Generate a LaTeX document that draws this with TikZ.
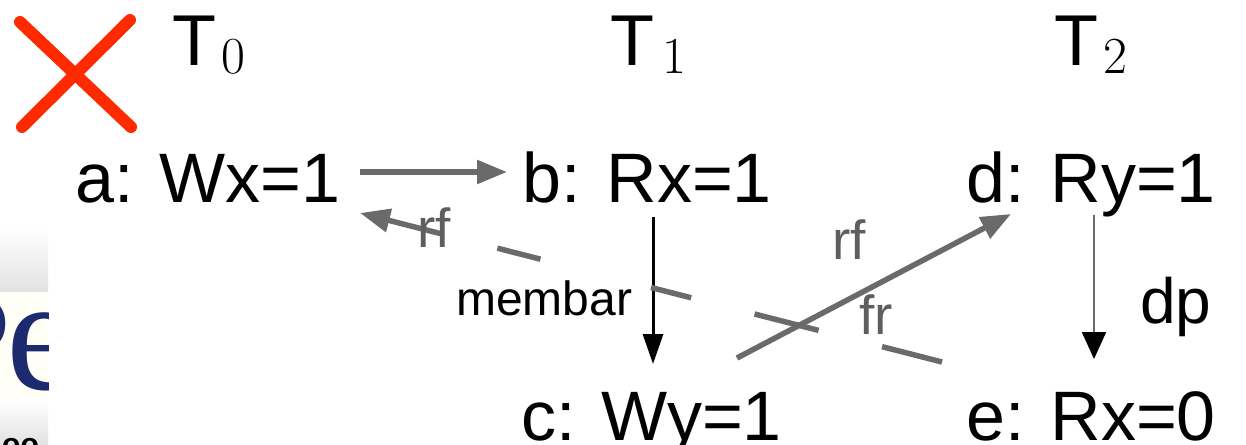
\documentclass[tikz,border=0pt]{standalone}
\usepackage{fontspec}
\setmainfont{Liberation Sans}
\newfontfamily\lmr{Latin Modern Roman}
\newfontfamily\seriffam{Liberation Serif}
\usetikzlibrary{arrows.meta,calc}
\definecolor{edgegray}{HTML}{6A6A6A}
\definecolor{labgray}{HTML}{5E5E5E}
\definecolor{xred}{HTML}{FF2A00}
\definecolor{navy}{HTML}{1C2A6E}
\definecolor{barbot}{HTML}{E2E2E2}
\begin{document}
\begin{tikzpicture}[x=1pt,y=1pt,
  evt/.style={anchor=base west,inner sep=0pt,font=\fontsize{70}{80}\selectfont},
  thr/.style={anchor=base west,inner sep=0pt,font=\fontsize{72}{80}\selectfont},
  sub/.style={font=\lmr\fontsize{52}{52}\selectfont},
  elab/.style={inner sep=0pt,text=labgray,font=\fontsize{55}{60}\selectfont},
  grayedge/.style={draw=edgegray,line width=5.5pt},
  grayhead/.style={-{Triangle[length=30pt,width=23pt]}},
  blackedge/.style={draw=black,line width=3pt,-{Triangle[length=30pt,width=20pt]}}]
\useasboundingbox (0,0) rectangle (1246,-444);
\fill[white] (0,0) rectangle (1246,-444);

% left fragment
\begin{scope}
\clip (0,-225) rectangle (48,-444);
\shade[top color=white,bottom color=barbot] (0,-228) rectangle (48,-291);
\fill[white!97!yellow] (0,-293) rectangle (48,-398);
\node[anchor=north east,inner sep=0pt,text=navy,font=\seriffam\fontsize{140}{140}\selectfont] (pp) at (12,-297) {P};
\node[anchor=north west,inner sep=0pt,text=navy,font=\seriffam\fontsize{163}{163}\selectfont] (pe) at (6,-312) {e};
\shade[top color=white,bottom color=barbot] (0,-400) rectangle (48,-444);
\node[anchor=base west,inner sep=0pt,font=\bfseries\fontsize{30}{30}\selectfont] (oo) at (2,-454) {oo};
\end{scope}

% red cross
\draw[xred,line width=12pt,line cap=round] (20,-22) -- (131,-127);
\draw[xred,line width=12pt,line cap=round] (130,-20) -- (22,-127);

% thread labels
\node[thr] (t0) at (172,-65) {T\hspace{5pt}\raisebox{-8pt}{\lmr\fontsize{52}{52}\selectfont 0}};
\node[thr] (t1) at (610,-65) {T\hspace{8pt}\raisebox{-8pt}{\lmr\fontsize{52}{52}\selectfont 1}};
\node[thr] (t2) at (1054,-65) {T\hspace{5pt}\raisebox{-8pt}{\lmr\fontsize{52}{52}\selectfont 2}};

% events
\node[evt] (a) at (75,-202) {a: Wx=1};
\node[evt] (b) at (522,-202) {b: Rx=1};
\node[evt] (d) at (966,-202) {d: Ry=1};
\node[evt] (c) at (521,-440) {c: Wy=1};
\node[evt] (e) at (966,-440) {e: Rx=0};

% connector end points
\coordinate (abS) at (360,-172);
\coordinate (abE) at (507,-172);
\coordinate (bcS) at (653,-217);
\coordinate (bcE) at (653,-364);
\coordinate (deS) at (1094,-215);
\coordinate (deE) at (1094,-359);
\coordinate (cdS) at (737,-358);
\coordinate (cdE) at (1011,-214);
\coordinate (frS) at (942,-362);
\coordinate (frE) at (360,-213);

% a -> b
\draw[grayedge,grayhead] (abS) -- (abE);
% b -> c
\draw[blackedge] (bcS) -- (bcE);
% d -> e
\draw[draw=edgegray,line width=2pt] (deS) -- ($(deE)+(0,26)$);
\draw[black,line width=2pt,-{Triangle[length=27pt,width=24pt]}] ($(deE)+(0,27)$) -- (deE);
% c -> d
\draw[grayedge,grayhead] (cdS) -- (cdE);
% e -> a (fr), partly hidden
\draw[grayedge] (frS) -- ($(frS)!0.103!(frE)$);
\draw[grayedge] ($(frS)!0.212!(frE)$) -- ($(frS)!0.322!(frE)$);
\draw[grayedge] ($(frS)!0.431!(frE)$) -- ($(frS)!0.50!(frE)$);
\draw[grayedge] ($(frS)!0.69!(frE)$) -- ($(frS)!0.764!(frE)$);
\draw[grayedge,grayhead] ($(frS)!0.862!(frE)$) -- (frE);

% edge labels
\node[elab] (rf1) at (434,-228) {rf};
\node[elab] (rf2) at (849,-240) {rf};
\node[elab] (fr1) at (876,-315) {fr};
\node[anchor=base west,inner sep=0pt,font=\fontsize{48}{52}\selectfont] (mb) at (456,-315) {membar};
\node[anchor=base west,inner sep=0pt,font=\fontsize{64}{70}\selectfont] (dp) at (1140,-323) {dp};
\end{tikzpicture}
\end{document}
